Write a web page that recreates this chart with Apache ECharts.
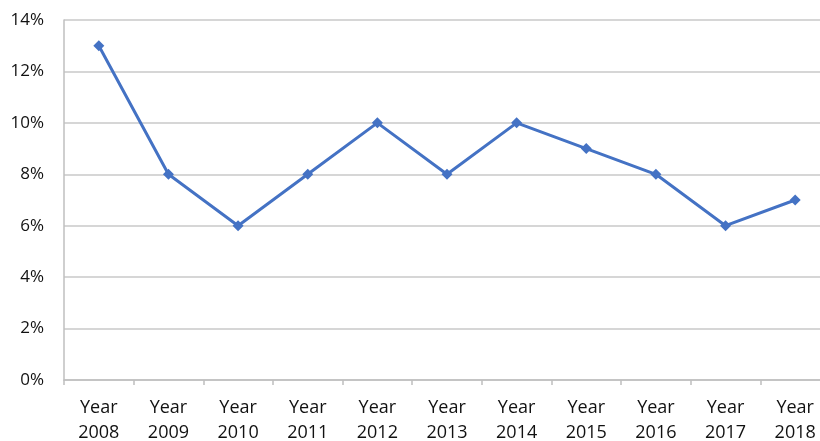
<!DOCTYPE html>
<html>
<head>
    <meta charset="UTF-8">
    <title>Year rate chart</title>
    <style>
        html, body { margin: 0; padding: 0; background: #fff; }
        #main { width: 820px; height: 441px; }
    </style>
</head>
<body>
<div id="main"></div>
<script src="https://cdn.jsdelivr.net/npm/echarts@6/dist/echarts.min.js"></script>
<script>
    // data
    var years = ['2008', '2009', '2010', '2011', '2012', '2013', '2014', '2015', '2016', '2017', '2018'];
    var rates = [13, 8, 6, 8, 10, 8, 10, 9, 8, 6, 7];
    var yTicks = [0, 2, 4, 6, 8, 10, 12, 14];

    var myChart = echarts.init(document.getElementById('main'));

    var option = {
        animation: false,
        grid: { left: 64, right: -10, top: 20, bottom: 61, containLabel: false, outerBoundsMode: 'none' },
        xAxis: {
            type: 'category',
            data: years,
            boundaryGap: true,
            axisLine: { lineStyle: { color: '#bfbfbf', width: 1.5 } },
            axisTick: { show: true, length: 5, lineStyle: { color: '#bfbfbf', width: 1.5 } },
            axisLabel: {
                margin: 15,
                fontFamily: 'Open Sans',
                fontSize: 18,
                color: '#111',
                lineHeight: 25,
                formatter: function (v) { return 'Year\n' + v; }
            }
        },
        yAxis: {
            type: 'value',
            min: yTicks[0],
            max: yTicks[yTicks.length - 1],
            interval: 2,
            axisLine: { show: true, lineStyle: { color: '#bfbfbf', width: 1.5 } },
            axisTick: { show: false },
            axisLabel: {
                margin: 20,
                fontFamily: 'Open Sans',
                fontSize: 17,
                color: '#111',
                formatter: '{value}%'
            },
            splitLine: { lineStyle: { color: '#c8c8c8', width: 1.5 } }
        },
        series: [{
            type: 'line',
            data: rates,
            symbol: 'diamond',
            symbolSize: 11,
            itemStyle: { color: '#4472c4' },
            lineStyle: { color: '#4472c4', width: 3 }
        }]
    };

    myChart.setOption(option);
</script>
</body>
</html>
